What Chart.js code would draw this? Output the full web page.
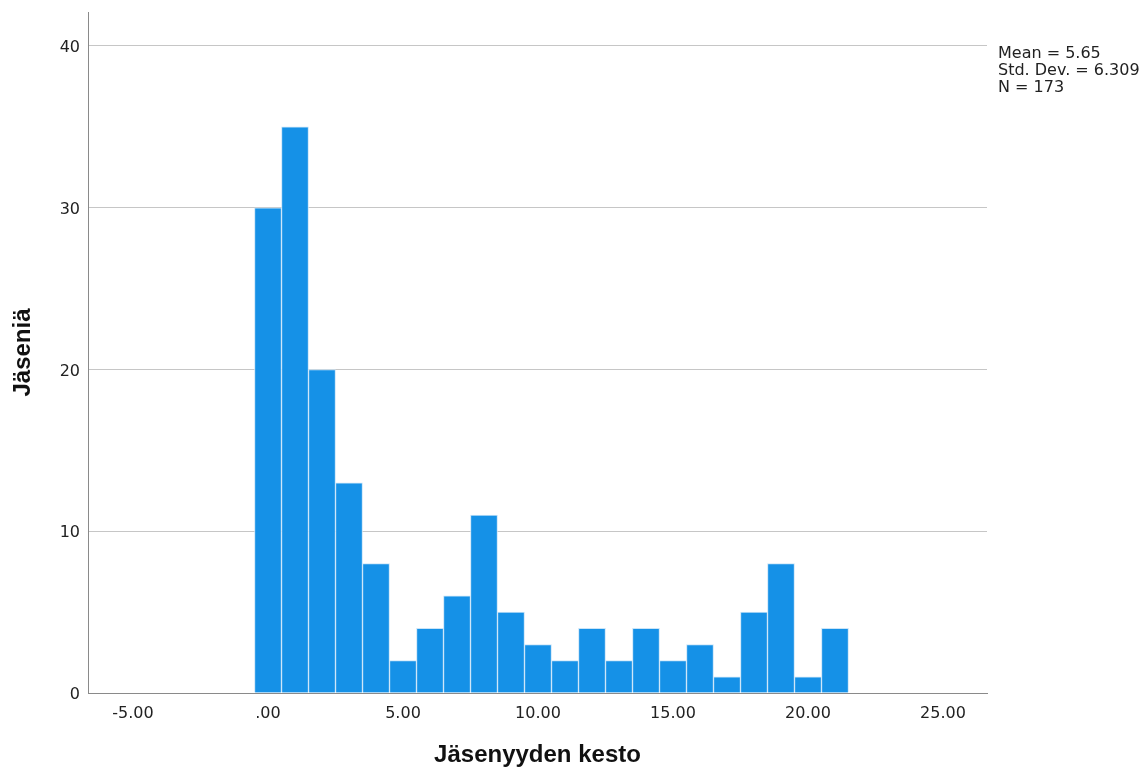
<!DOCTYPE html>
<html>
<head>
<meta charset="utf-8">
<title>Jäsenyyden kesto</title>
<script src="https://cdn.jsdelivr.net/npm/chart.js@4"></script>
<style>
  html, body { margin: 0; padding: 0; background: #fff; }
  #wrap { width: 1146px; height: 772px; }
</style>
</head>
<body>
<div id="wrap"><canvas id="histo" width="1146" height="772"></canvas></div>
<script>
// histogrammin luokat (keskipisteet) ja frekvenssit
var binCenters = [0, 1, 2, 3, 4, 5, 6, 7, 8, 9, 10, 11, 12, 13, 14, 15, 16, 17, 18, 19, 20, 21];
var counts = [30, 35, 20, 13, 8, 2, 4, 6, 11, 5, 3, 2, 4, 2, 4, 2, 3, 1, 5, 8, 1, 4];

var xTickValues = [-5, 0, 5, 10, 15, 20, 25];
var xTickLabels = ['-5.00', '.00', '5.00', '10.00', '15.00', '20.00', '25.00'];
var yTickValues = [0, 10, 20, 30, 40];
var yTickLabels = ['0', '10', '20', '30', '40'];

var statLines = ['Mean = 5.65', 'Std. Dev. = 6.309', 'N = 173'];

(function() {
    'use strict';

    var points = binCenters.map(function(c, i) {
        return { x: c, y: counts[i] };
    });

    // tilastolaatikko oikeaan yläkulmaan
    var statsBox = {
        id: 'statsBox',
        afterDraw: function(chart) {
            var ctx = chart.ctx;
            ctx.save();
            ctx.font = '16px "DejaVu Sans"';
            ctx.fillStyle = '#222';
            ctx.textAlign = 'left';
            ctx.textBaseline = 'alphabetic';
            statLines.forEach(function(line, i) {
                ctx.fillText(line, chart.chartArea.right + 11, 58 + i * 17);
            });
            ctx.restore();
        }
    };

    new Chart(document.getElementById('histo'), {
        type: 'bar',
        data: {
            datasets: [{
                data: points,
                backgroundColor: '#1591e7',
                borderColor: '#c9e4f8',
                borderWidth: 1,
                barPercentage: 1.0,
                categoryPercentage: 1.0
            }]
        },
        options: {
            responsive: false,
            animation: false,
            devicePixelRatio: 1,
            layout: {
                padding: { top: 12, right: 159, bottom: 0, left: 0 }
            },
            plugins: {
                legend: { display: false },
                tooltip: { enabled: false }
            },
            scales: {
                x: {
                    type: 'linear',
                    offset: false,
                    min: -6.667,
                    max: 26.63,
                    afterBuildTicks: function(axis) {
                        axis.ticks = xTickValues.map(function(v) { return { value: v }; });
                    },
                    afterFit: function(axis) { axis.height = 79; },
                    grid: { display: false, drawTicks: false, offset: false },
                    border: { display: true, color: '#8a8a8a', width: 1 },
                    ticks: {
                        padding: 11,
                        color: '#222',
                        maxRotation: 0,
                        font: { family: 'DejaVu Sans', size: 16 },
                        callback: function(v) {
                            var i = xTickValues.indexOf(v);
                            return i >= 0 ? xTickLabels[i] : '';
                        }
                    },
                    title: {
                        display: true,
                        text: 'Jäsenyyden kesto',
                        color: '#111',
                        padding: { top: 0, bottom: 2 },
                        font: { family: 'Liberation Sans', size: 24, weight: 'bold', lineHeight: 1.2 }
                    }
                },
                y: {
                    min: 0,
                    max: 42.1,
                    afterBuildTicks: function(axis) {
                        axis.ticks = yTickValues.map(function(v) { return { value: v }; });
                    },
                    afterFit: function(axis) {
                        axis.width = 88;
                        axis.paddingTop = 0;
                        axis.paddingBottom = 0;
                    },
                    grid: {
                        drawTicks: false,
                        color: function(c) {
                            return c.tick && c.tick.value === 0 ? 'rgba(0,0,0,0)' : '#c6c6c6';
                        },
                        lineWidth: 1
                    },
                    border: { display: true, color: '#8a8a8a', width: 1 },
                    ticks: {
                        padding: 8,
                        labelOffset: 2,
                        color: '#222',
                        font: { family: 'DejaVu Sans', size: 16 },
                        callback: function(v) {
                            var i = yTickValues.indexOf(v);
                            return i >= 0 ? yTickLabels[i] : '';
                        }
                    },
                    title: {
                        display: true,
                        text: 'Jäseniä',
                        color: '#111',
                        padding: { top: 9, bottom: 0 },
                        font: { family: 'Liberation Sans', size: 24, weight: 'bold', lineHeight: 1.2 }
                    }
                }
            }
        },
        plugins: [statsBox]
    });
})();
</script>
</body>
</html>
